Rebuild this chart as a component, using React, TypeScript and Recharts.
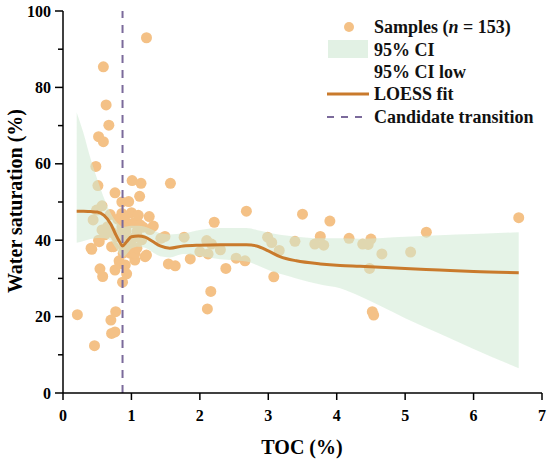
import React from "react";
import {
  ComposedChart,
  Scatter,
  Area,
  Line,
  XAxis,
  YAxis,
  ReferenceLine,
} from "recharts";

// TOC (%) and water saturation (%) of the samples
const sampleToc = [
  0.21, 0.46, 0.42, 0.41, 0.44, 0.49, 0.48, 0.51, 0.52, 0.59, 0.59, 0.63, 0.67,
  0.53, 0.52, 0.57, 0.61, 0.54, 0.58, 0.57, 0.69, 0.71, 0.74, 0.76, 0.76, 0.78,
  0.82, 0.83, 0.86, 0.86, 0.86, 0.87, 0.88, 0.91, 0.93, 0.93, 0.95, 0.96, 0.98,
  0.98, 1.0, 1.01, 1.05, 1.05, 1.08, 1.08, 1.12, 1.14, 1.15, 1.17, 1.2, 1.22,
  1.22, 1.26, 1.27, 1.32, 1.49, 1.54, 1.57, 1.64, 1.77, 1.86, 2.0, 2.1, 2.11,
  2.12, 2.16, 2.17, 2.21, 2.3, 2.38, 2.53, 2.66, 2.68, 2.99, 3.05, 3.08, 3.16,
  3.39, 3.5, 3.68, 3.76, 3.81, 3.9, 4.18, 4.38, 4.46, 4.48, 4.5, 4.52, 4.54,
  4.66, 5.08, 5.31, 6.66, 0.7, 0.77, 0.71, 0.76, 0.65, 0.72, 0.8, 0.9, 0.92,
  1.03, 1.1, 1.13, 0.84, 0.97, 1.02, 0.89, 1.43,
];
const sampleSw = [
  20.5, 12.4, 37.6, 37.9, 45.3, 47.9, 59.3, 54.3, 67.1, 65.8, 85.4, 75.4, 70.1,
  39.6, 40.0, 42.7, 41.4, 32.5, 30.5, 49.0, 46.7, 38.3, 38.3, 32.2, 52.4, 40.9,
  34.6, 33.9, 43.5, 47.0, 50.0, 29.0, 36.6, 33.5, 31.2, 40.1, 44.4, 50.1, 39.2,
  36.6, 47.2, 55.6, 34.8, 36.5, 42.2, 37.9, 51.5, 54.9, 40.1, 43.4, 35.7, 36.1,
  93.0, 46.2, 42.8, 43.7, 41.0, 33.8, 54.9, 33.3, 40.8, 35.1, 37.0, 39.9, 22.0,
  36.4, 26.6, 39.0, 44.7, 37.5, 32.6, 35.3, 34.6, 47.6, 40.8, 39.4, 30.4, 37.3,
  39.7, 46.8, 39.0, 41.0, 38.7, 45.0, 40.5, 39.0, 38.9, 32.6, 40.3, 21.3, 20.4,
  36.4, 36.9, 42.1, 45.9, 19.1, 21.3, 15.6, 16.0, 43.5, 42.0, 45.5, 46.0, 42.5,
  44.5, 46.5, 44.0, 41.5, 38.0, 40.5, 38.0, 40.5,
];

// LOESS fit and its 95% confidence band
const fitToc = [
  0.2, 0.3, 0.4, 0.5, 0.6, 0.7, 0.77, 0.83, 0.87, 0.93, 1.0, 1.1, 1.2, 1.3,
  1.42, 1.56, 1.76, 2.0, 2.3, 2.68, 2.83, 3.0, 3.17, 3.41, 3.76, 4.05, 4.34,
  5.0, 5.5, 6.0, 6.66,
];
const fitSw = [
  47.6, 47.6, 47.5, 47.4, 46.5, 44.2, 41.5, 39.5, 38.5, 39.6, 40.9, 41.1, 40.8,
  39.8, 38.5, 37.9, 38.5, 38.7, 38.8, 38.8, 38.5, 37.2, 35.7, 34.6, 33.8, 33.4,
  33.2, 32.6, 32.2, 31.8, 31.5,
];
const ciHigh = [
  73.4, 68.0, 61.5, 56.0, 51.0, 47.0, 45.0, 44.0, 43.5, 43.6, 43.8, 43.8, 43.5,
  42.8, 41.8, 41.5, 41.8, 42.7, 43.2, 43.2, 42.7, 42.0, 41.4, 40.9, 40.5, 40.5,
  40.4, 40.9, 41.3, 41.6, 42.1,
];
const ciLow = [
  39.3, 39.8, 40.3, 40.6, 40.5, 39.8, 38.0, 36.3, 35.5, 36.3, 37.8, 38.3, 38.0,
  37.0, 35.8, 35.5, 36.4, 35.8, 35.0, 34.4, 33.5, 32.2, 31.2, 30.0, 28.4, 27.4,
  25.3, 19.6, 15.6, 11.5, 6.5,
];

const transitionToc = 0.87;
const xTicks = [0, 1, 2, 3, 4, 5, 6, 7];
const yTicks = [0, 10, 20, 30, 40, 50, 60, 70, 80, 90, 100];

const samples = sampleToc.map((x, i) => ({ x, y: sampleSw[i] }));
const curve = fitToc.map((x, i) => ({
  x,
  fit: fitSw[i],
  band: [ciLow[i], ciHigh[i]],
}));

const serif = { fontFamily: "Liberation Serif", fontWeight: 700 } as const;
const PLOT_LEFT = 63;

const YTick = (props: any) => {
  const { y, payload } = props;
  const major = payload.value % 20 === 0;
  return (
    <g>
      <line
        x1={PLOT_LEFT - (major ? 8 : 5)}
        x2={PLOT_LEFT}
        y1={y}
        y2={y}
        stroke="#000"
        strokeWidth={1.5}
      />
      {major && (
        <text
          x={51}
          y={y}
          textAnchor="end"
          dominantBaseline="central"
          style={serif}
          fontSize={16}
          fill="#000"
        >
          {payload.value}
        </text>
      )}
    </g>
  );
};

const XTick = (props: any) => {
  const { x, payload } = props;
  return (
    <g>
      <line x1={x} x2={x} y1={393} y2={400} stroke="#000" strokeWidth={1.5} />
      <text
        x={x}
        y={415}
        textAnchor="middle"
        dominantBaseline="central"
        style={serif}
        fontSize={16}
        fill="#000"
      >
        {payload.value}
      </text>
    </g>
  );
};

const YTitle = () => (
  <text
    x={15}
    y={201}
    transform="rotate(-90 15 201)"
    textAnchor="middle"
    dominantBaseline="central"
    style={serif}
    fontSize={20}
    fill="#000"
  >
    Water saturation (%)
  </text>
);

const XTitle = () => (
  <text
    x={302}
    y={447}
    textAnchor="middle"
    dominantBaseline="central"
    style={serif}
    fontSize={20}
    fill="#000"
  >
    TOC (%)
  </text>
);

const Legend = () => {
  const tx = 374;
  const rows = [27, 50, 72, 94, 117];
  const txt = (y: number, children: React.ReactNode) => (
    <text
      x={tx}
      y={y}
      dominantBaseline="central"
      style={serif}
      fontSize={18}
      fill="#111"
    >
      {children}
    </text>
  );
  return (
    <svg
      width={550}
      height={459}
      style={{ position: "absolute", left: 0, top: 0, pointerEvents: "none" }}
    >
      <circle cx={349} cy={rows[0]} r={5} fill="#f4c186" />
      {txt(rows[0], <>Samples (<tspan fontStyle="italic">n</tspan> = 153)</>)}
      <rect x={328} y={40} width={40} height={18} fill="#e2f1e4" />
      {txt(rows[1], "95% CI")}
      {txt(rows[2], "95% CI low")}
      <line x1={327} x2={369} y1={rows[3]} y2={rows[3]} stroke="#c97a2c" strokeWidth={3} />
      {txt(rows[3], "LOESS fit")}
      <line
        x1={327}
        x2={369}
        y1={rows[4]}
        y2={rows[4]}
        stroke="#7b6a9b"
        strokeWidth={2}
        strokeDasharray="7 7"
      />
      {txt(rows[4], "Candidate transition")}
    </svg>
  );
};

export default function App() {
  return (
    <div style={{ position: "absolute", left: 0, top: 0, width: 550, height: 459, background: "#fff" }}>
      <ComposedChart
        width={550}
        height={459}
        data={curve}
        margin={{ top: 11, right: 8, left: 0, bottom: 0 }}
      >
        <XAxis
          dataKey="x"
          type="number"
          domain={[0, 7]}
          ticks={xTicks}
          height={66}
          tickLine={false}
          tick={<XTick />}
          axisLine={{ stroke: "#000", strokeWidth: 1.5 }}
          label={<XTitle />}
        />
        <XAxis
          xAxisId="top"
          orientation="top"
          type="number"
          domain={[0, 7]}
          height={0}
          tick={false}
          tickLine={false}
          axisLine={{ stroke: "#000", strokeWidth: 1.5 }}
        />
        <YAxis
          type="number"
          domain={[0, 100]}
          ticks={yTicks}
          width={63}
          tickLine={false}
          tick={<YTick />}
          interval={0}
          axisLine={{ stroke: "#000", strokeWidth: 1.5 }}
          label={<YTitle />}
        />
        <YAxis
          yAxisId="right"
          orientation="right"
          type="number"
          domain={[0, 100]}
          width={0}
          tick={false}
          tickLine={false}
          axisLine={{ stroke: "#000", strokeWidth: 1.5 }}
        />
        <Scatter
          data={samples}
          dataKey="y"
          fill="#f4c186"
          shape={(p: any) => <circle cx={p.cx} cy={p.cy} r={5.5} fill="#f4c186" />}
          isAnimationActive={false}
          zIndex={100}
        />
        <Area
          dataKey="band"
          type="monotone"
          stroke="none"
          fill="#cfe9d3"
          fillOpacity={0.55}
          isAnimationActive={false}
          zIndex={200}
        />
        <Line
          dataKey="fit"
          type="monotone"
          stroke="#c97a2c"
          strokeWidth={3}
          dot={false}
          isAnimationActive={false}
          zIndex={300}
        />
        <ReferenceLine
          x={transitionToc}
          stroke="#7b6a9b"
          strokeWidth={2}
          strokeDasharray="8 7"
          zIndex={400}
        />
      </ComposedChart>
      <Legend />
    </div>
  );
}
